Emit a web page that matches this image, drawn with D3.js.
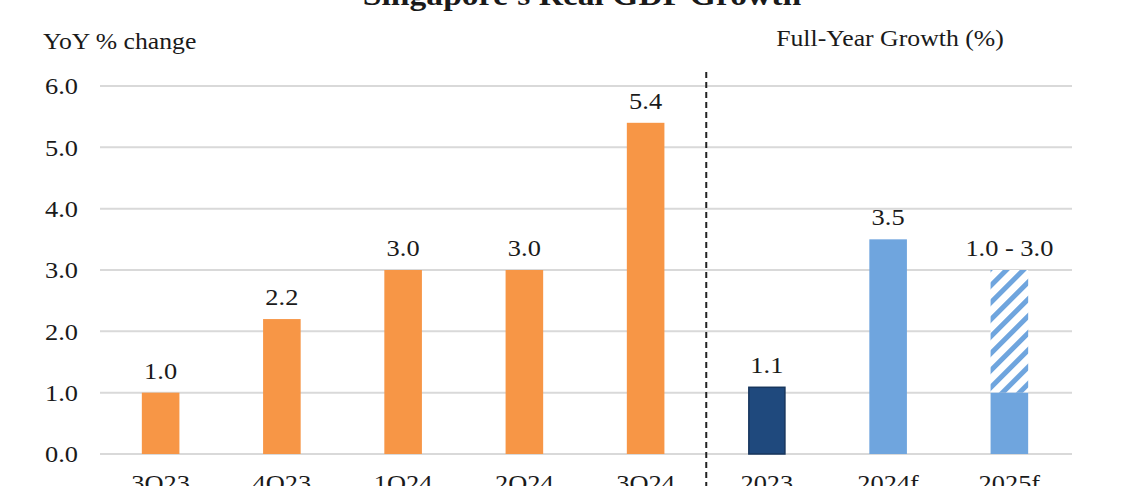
<!DOCTYPE html>
<html>
<head>
<meta charset="utf-8">
<script src="https://cdn.jsdelivr.net/npm/d3@7"></script>
<style>
  html, body { margin: 0; padding: 0; background: #fff; }
  svg { display: block; }
  text { font-family: "Liberation Serif", "Times New Roman", serif; fill: #1a1a1a; }
</style>
</head>
<body>
<div id="chart"></div>
<script>
// Quarterly YoY growth
const quarters = ["3Q23", "4Q23", "1Q24", "2Q24", "3Q24"];
const quarterValues = [1.0, 2.2, 3.0, 3.0, 5.4];

// Full-year growth
const years = ["2023", "2024f", "2025f"];
const yearValues = [1.1, 3.5, 1.0];
const yearHigh = [null, null, 3.0];   // upper end of forecast range
const yearLabels = ["1.1", "3.5", "1.0 - 3.0"];
const yearColors = ["#1f497d", "#6fa5de", "#6fa5de"];

const yTicks = [0, 1, 2, 3, 4, 5, 6];

const width = 1140, height = 486;
const margin = { left: 100, right: 70, top: 86, bottom: 32 };

const svg = d3.select("#chart").append("svg")
    .attr("width", width)
    .attr("height", height);

// hatch pattern for forecast range
const defs = svg.append("defs");
const pat = defs.append("pattern")
    .attr("id", "hatch")
    .attr("patternUnits", "userSpaceOnUse")
    .attr("width", 12)
    .attr("height", 12)
    .attr("patternTransform", "rotate(45)");
pat.append("rect").attr("width", 12).attr("height", 12).attr("fill", "#fff");
pat.append("rect").attr("width", 5).attr("height", 12).attr("fill", "#6fa5de");

const categories = quarters.concat(years);

const x = d3.scaleBand()
    .domain(categories)
    .range([margin.left, width - margin.right])
    .paddingInner(0.69)
    .paddingOuter(0.345);

const y = d3.scaleLinear()
    .domain([0, 6])
    .range([height - margin.bottom, margin.top]);

// text is slightly wide in the original, so stretch horizontally a bit
function wide(sel, sx) {
    sel.each(function () {
        const t = d3.select(this);
        const tx = +t.attr("x"), ty = +t.attr("y");
        t.attr("transform", `translate(${tx},${ty}) scale(${sx},1) translate(${-tx},${-ty})`);
    });
}

// gridlines
svg.append("g")
    .selectAll("line")
    .data(yTicks)
    .join("line")
    .attr("x1", margin.left)
    .attr("x2", width - margin.right + 2)
    .attr("y1", d => y(d))
    .attr("y2", d => y(d))
    .attr("stroke", "#d9d9d9")
    .attr("stroke-width", 2);

// y tick labels
svg.append("g")
    .selectAll("text")
    .data(yTicks)
    .join("text")
    .attr("x", 78)
    .attr("y", d => y(d))
    .attr("dy", "0.35em")
    .attr("text-anchor", "end")
    .style("font-size", "24px")
    .text(d => d.toFixed(1))
    .call(wide, 1.1);

// quarterly bars
svg.append("g")
    .selectAll("rect")
    .data(quarters)
    .join("rect")
    .attr("x", d => x(d))
    .attr("width", x.bandwidth())
    .attr("y", (d, i) => y(quarterValues[i]))
    .attr("height", (d, i) => y(0) - y(quarterValues[i]))
    .attr("fill", "#f79646");

svg.append("g")
    .selectAll("text")
    .data(quarters)
    .join("text")
    .attr("x", d => x(d) + x.bandwidth() / 2)
    .attr("y", (d, i) => y(quarterValues[i]) - 14)
    .attr("text-anchor", "middle")
    .style("font-size", "24px")
    .text((d, i) => quarterValues[i].toFixed(1))
    .call(wide, 1.1);

// full-year bars
const yg = svg.append("g");
years.forEach((d, i) => {
    if (yearHigh[i] != null) {
        yg.append("rect")
            .attr("x", x(d))
            .attr("width", x.bandwidth())
            .attr("y", y(yearHigh[i]))
            .attr("height", y(yearValues[i]) - y(yearHigh[i]))
            .attr("fill", "url(#hatch)");
    }
    yg.append("rect")
        .attr("x", x(d) + (i === 0 ? 0.75 : 0))
        .attr("width", x.bandwidth() - (i === 0 ? 1.5 : 0))
        .attr("y", y(yearValues[i]) + (i === 0 ? 0.75 : 0))
        .attr("height", y(0) - y(yearValues[i]) - (i === 0 ? 0.75 : 0))
        .attr("fill", yearColors[i])
        .attr("stroke", i === 0 ? "#17365d" : "none")
        .attr("stroke-width", 1.5);
    const top = yearHigh[i] != null ? yearHigh[i] : yearValues[i];
    yg.append("text")
        .attr("x", x(d) + x.bandwidth() / 2)
        .attr("y", y(top) - 14)
        .attr("text-anchor", "middle")
        .style("font-size", "24px")
        .text(yearLabels[i])
        .call(wide, 1.1);
});

// x labels (partly cut off at bottom, as in the original)
svg.append("g")
    .selectAll("text")
    .data(categories)
    .join("text")
    .attr("x", d => x(d) + x.bandwidth() / 2)
    .attr("y", 491)
    .attr("text-anchor", "middle")
    .style("font-size", "24px")
    .text(d => d)
    .call(wide, 1.1);

// divider between quarterly and full-year panels
const divX = x(years[0]) - (x.step() - x.bandwidth()) / 2;
svg.append("line")
    .attr("x1", divX)
    .attr("x2", divX)
    .attr("y1", 72)
    .attr("y2", height)
    .attr("stroke", "#222")
    .attr("stroke-width", 2)
    .attr("stroke-dasharray", "6,4");

// titles
svg.append("text")
    .attr("x", 582)
    .attr("y", 5)
    .attr("text-anchor", "middle")
    .style("font-size", "30px")
    .style("font-weight", "bold")
    .text("Singapore's Real GDP Growth")
    .call(wide, 1.12);

svg.append("text")
    .attr("x", 43)
    .attr("y", 49)
    .style("font-size", "24px")
    .text("YoY % change")
    .call(wide, 1.07);

svg.append("text")
    .attr("x", 890)
    .attr("y", 46)
    .attr("text-anchor", "middle")
    .style("font-size", "23px")
    .text("Full-Year Growth (%)")
    .call(wide, 1.12);
</script>
</body>
</html>
